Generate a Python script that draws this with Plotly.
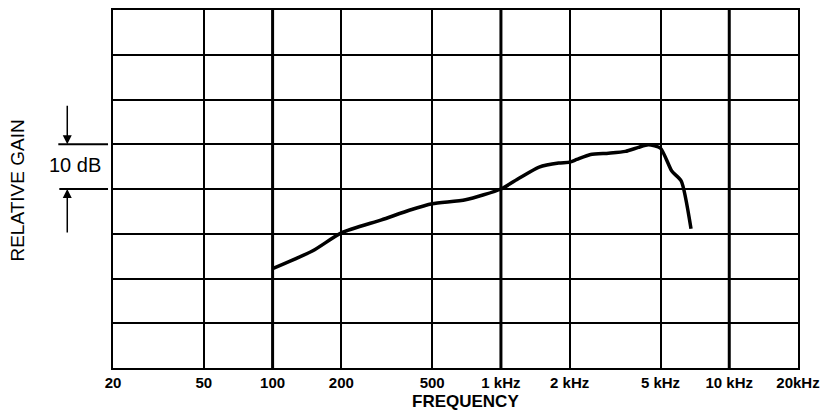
import math
import plotly.graph_objects as go

# Frequency response data
freq_hz = [100, 150, 200, 300, 400, 500, 700, 1000, 1200, 1470, 1790, 2000, 2150, 2470,
           2960, 3510, 4000, 4430, 5000, 5600, 6160, 6800]
gain_db = [22.2, 26.2, 30.2, 33.1, 35.3, 36.7, 37.6, 40.0, 42.4, 44.9, 45.8, 46.0, 46.6, 47.7,
           48.0, 48.4, 49.3, 49.9, 49.1, 44.0, 41.8, 31.1]

tick_vals = [20, 50, 100, 200, 500, 1000, 2000, 5000, 10000, 20000]
tick_text = ["20", "50", "100", "200", "500", "1 kHz", "2 kHz", "5 kHz", "10 kHz", "20kHz"]
decade_lines = [100, 1000, 10000]

x_title = "FREQUENCY"
y_title = "RELATIVE GAIN"
scale_label = "10 dB"

FONT = "Liberation Sans, Arial, sans-serif"

fig = go.Figure()
fig.add_trace(go.Scatter(x=freq_hz, y=gain_db, mode="lines",
                         line=dict(color="black", width=3.5, shape="spline", smoothing=0.6),
                         showlegend=False, hoverinfo="skip"))

W, H = 828, 414
L, R, T, B = 113, 26, 8, 46
pw = W - L - R
ph = H - T - B

def px_to_paper_x(px):
    return (px - L) / pw

def px_to_paper_y(py):
    return (H - B - py) / ph

shapes = []
for f in decade_lines:
    shapes.append(dict(type="line", xref="x", yref="paper", x0=f, x1=f, y0=0, y1=1,
                       line=dict(color="black", width=3)))
# scale bracket lines
shapes.append(dict(type="line", xref="paper", yref="y", x0=px_to_paper_x(58), x1=px_to_paper_x(108),
                   y0=50, y1=50, line=dict(color="black", width=2)))
shapes.append(dict(type="line", xref="paper", yref="y", x0=px_to_paper_x(59), x1=px_to_paper_x(108),
                   y0=40, y1=40, line=dict(color="black", width=2)))

annotations = [
    dict(x=px_to_paper_x(67), y=50, xref="paper", yref="y", ax=0, ay=-40, text="",
         showarrow=True, arrowhead=2, arrowsize=1.2, arrowwidth=1.5, arrowcolor="black"),
    dict(x=px_to_paper_x(67), y=40, xref="paper", yref="y", ax=0, ay=45, text="",
         showarrow=True, arrowhead=2, arrowsize=1.2, arrowwidth=1.5, arrowcolor="black"),
    dict(x=px_to_paper_x(75), y=45.3, xref="paper", yref="y", text=scale_label, showarrow=False,
         font=dict(family=FONT, size=20, color="black"), xanchor="center", yanchor="middle"),
    dict(x=px_to_paper_x(468), y=px_to_paper_y(402), xref="paper", yref="paper",
         text="<b>" + x_title + "</b>",
         showarrow=False, font=dict(family=FONT, size=17, color="black"),
         xanchor="center", yanchor="middle"),
    dict(x=px_to_paper_x(17), y=px_to_paper_y(190), xref="paper", yref="paper", text=y_title,
         showarrow=False, textangle=-90, font=dict(family=FONT, size=19, color="black"),
         xanchor="center", yanchor="middle"),
]

fig.update_layout(
    width=W, height=H,
    margin=dict(l=L, r=R, t=T, b=B),
    paper_bgcolor="white", plot_bgcolor="white",
    shapes=shapes, annotations=annotations,
    xaxis=dict(type="log", range=[math.log10(20), math.log10(20000)],
               tickvals=tick_vals, ticktext=["<b>" + t + "</b>" for t in tick_text], showgrid=True,
               gridcolor="black", gridwidth=1.5, showline=True, linecolor="black",
               linewidth=2, mirror=True, ticks="", zeroline=False,
               tickfont=dict(family=FONT, size=15, color="black")),
    yaxis=dict(range=[0, 80], dtick=10, showgrid=True, gridcolor="black", gridwidth=1.5,
               showticklabels=False, showline=True, linecolor="black", linewidth=2,
               mirror=True, ticks="", zeroline=False),
)

fig.write_html("out.html", config={"displayModeBar": False},
               post_script="document.body.style.margin='0';document.body.style.overflow='hidden';")
